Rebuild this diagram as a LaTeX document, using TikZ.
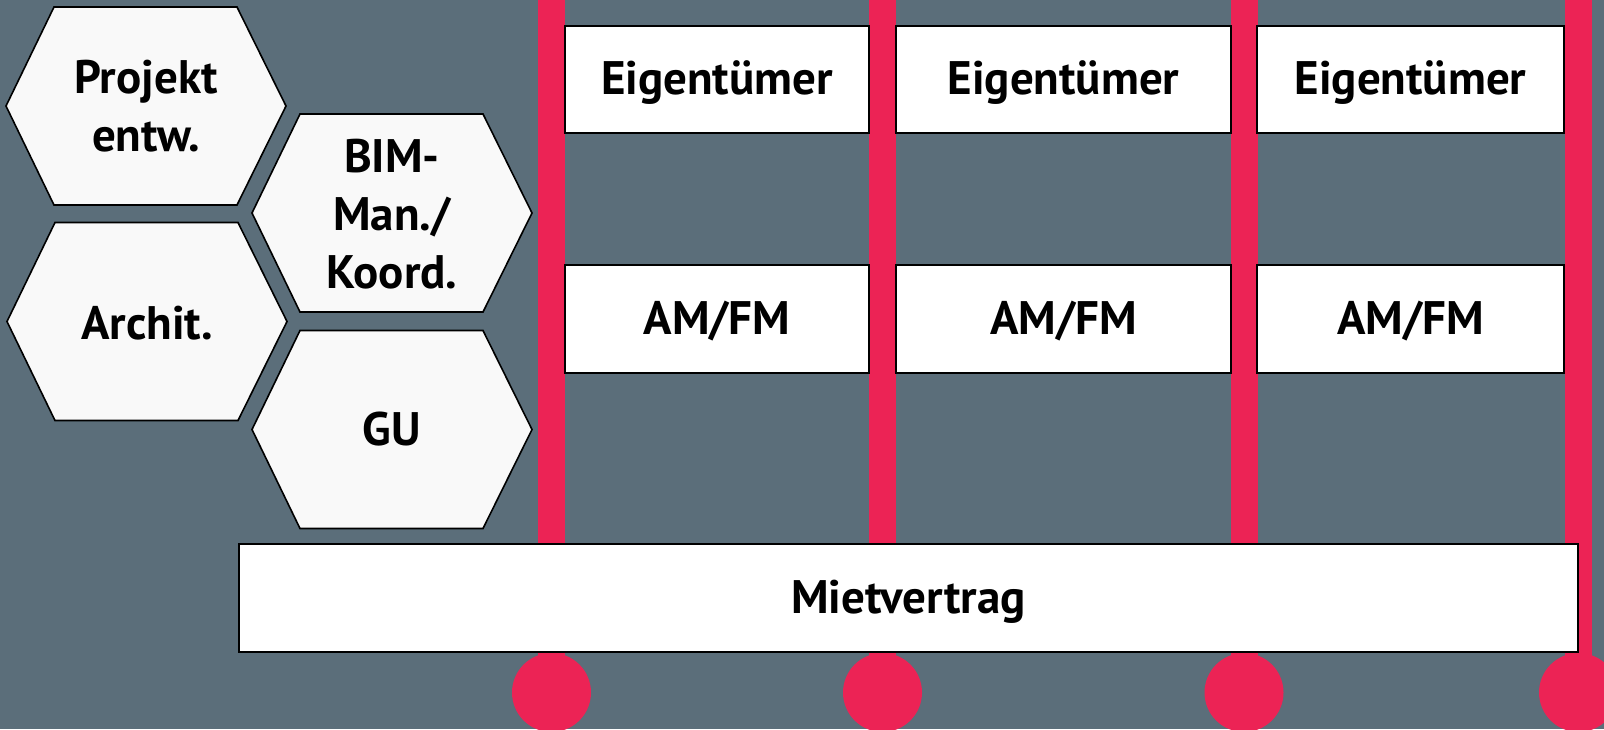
\documentclass[tikz,border=0pt]{standalone}
\usepackage{fontspec}
\setmainfont{PT Sans}
\definecolor{bgc}{HTML}{5B6E7A}
\definecolor{rd}{HTML}{EC2355}
\definecolor{hexfill}{HTML}{F9F9F9}
\tikzset{
  barline/.style={draw=rd, line width=13.5pt},
  dot/.style={circle, fill=rd, draw=none, minimum size=39.5pt, inner sep=0pt},
  box/.style={rectangle, draw=black, fill=white, line width=0.9pt, inner sep=0pt,
              text height=15pt, text depth=0pt,
              font=\fontsize{23.5}{29}\selectfont\bfseries},
  hexshape/.style={draw=black, fill=hexfill, line width=0.8pt, line join=miter},
  lbl/.style={align=center, inner sep=0pt, font=\fontsize{23.5}{29}\selectfont\bfseries}
}
\newcommand\hexa[2]{%
  \filldraw[hexshape] (#1-140,#2) -- ++(48,-99) -- ++(183,0) -- ++(49,99)
     -- ++(-49,99) -- ++(-183,0) -- cycle;}
\begin{document}
\begin{tikzpicture}[x=0.5pt,y=-0.5pt]
  \useasboundingbox (0,0) rectangle (1604,729);
  \fill[bgc] (0,0) rectangle (1604,729);
  % bars and dots
  \foreach \i/\x in {1/551.5,2/882.5,3/1244,4/1578.5}{
    \coordinate (t\i) at (\x,0);
    \node[dot] (c\i) at (\x,692.5) {};
    \draw[barline] (t\i) -- (c\i.center);
  }
  % owner boxes
  \node[box, minimum width=152pt, minimum height=53.5pt] (e1) at (717,79.5) {Eigentümer};
  \node[box, minimum width=167.5pt, minimum height=53.5pt] (e2) at (1063.5,79.5) {Eigentümer};
  \node[box, minimum width=153.5pt, minimum height=53.5pt] (e3) at (1410.5,79.5) {Eigentümer};
  \node[box, minimum width=152pt, minimum height=54pt] (a1) at (717,319) {AM/FM};
  \node[box, minimum width=167.5pt, minimum height=54pt] (a2) at (1063.5,319) {AM/FM};
  \node[box, minimum width=153.5pt, minimum height=54pt] (a3) at (1410.5,319) {AM/FM};
  \node[box, minimum width=669.5pt, minimum height=54pt] (miet) at (908.5,598) {Mietvertrag};
  % hexagons
  \hexa{146}{106}
  \hexa{147}{321.5}
  \hexa{392}{213}
  \hexa{392}{429.5}
  \node[lbl] (projekt) at (146,106) {Projekt\\entw.};
  \node[lbl] (archit) at (147,323) {Archit.};
  \node[lbl] (bim) at (392,214) {BIM-\\Man./\\Koord.};
  \node[lbl] (gu) at (392,429.5) {GU};
\end{tikzpicture}
\end{document}
